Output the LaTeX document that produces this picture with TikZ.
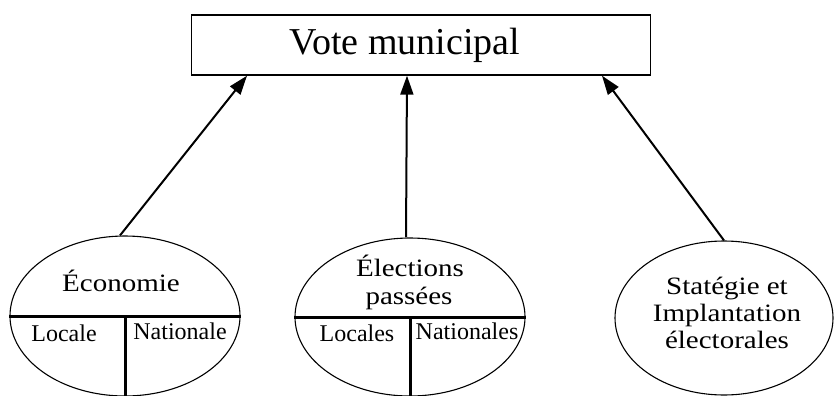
\documentclass[tikz,border=0pt]{standalone}
\usepackage{fontspec}
\setmainfont{Liberation Serif}
\newfontfamily\widefont[FakeStretch=1.16]{Liberation Serif}
\usetikzlibrary{shapes.geometric, arrows.meta, positioning}
\newcommand{\bigfont}{\widefont\fontsize{25}{26}\selectfont}
\newcommand{\smallfont}{\fontsize{24}{24}\selectfont}

\begin{document}
\begin{tikzpicture}[
    x=1pt, y=-1pt,
    %% -- Node styles ------------------------------------------------------
    %%
    %% votebox: the plain frame at the top
    votebox/.style={
        draw,
        line width=1.4pt,
        minimum width=459pt,
        minimum height=60pt,
        inner sep=0pt,
    },
    %% factor: one oval per group of causes
    factor/.style={
        draw,
        shape=ellipse,
        line width=1.1pt,
        inner sep=0pt,
    },
    %% split: the heavy chord and stem inside an oval
    split/.style={line width=3pt},
    %% -- Text styles ------------------------------------------------------
    title/.style={font=\fontsize{38}{38}\selectfont, anchor=base, inner sep=0pt},
    flabel/.style={font=\bigfont, anchor=base, inner sep=0pt, align=center},
    sublabel/.style={font=\smallfont, anchor=base, inner sep=0pt},
    %% -- Edge style -------------------------------------------------------
    cause/.style={
        -{Triangle[length=19pt, width=13pt]},
        line width=2pt,
    },
]

\useasboundingbox (0,0) rectangle (835,396);

%% -- Place nodes here -----------------------------------------------------

\node[votebox] (vote) at (421,45) {};
\node[title]   (vote_text) at (405,55) {Vote municipal};

\node[factor, minimum width=230pt, minimum height=160pt] (eco) at (125,316) {};
\node[factor, minimum width=230pt, minimum height=158pt] (elec) at (410,317) {};
\node[factor, minimum width=218pt, minimum height=154pt] (strat) at (724,318) {};

\node[flabel]   (eco_text)  at (121,291) {Économie};
\node[sublabel] (eco_loc)   at (64,341)  {Locale};
\node[sublabel] (eco_nat)   at (180,339) {Nationale};

\node[flabel]   (elec_text1) at (410,276) {Élections};
\node[flabel]   (elec_text2) at (409,304) {passées};
\node[sublabel] (elec_loc)   at (357,341) {Locales};
\node[sublabel] (elec_nat)   at (467,339) {Nationales};

\node[flabel]   (strat_text1) at (727,294) {Statégie et};
\node[flabel]   (strat_text2) at (727,321) {Implantation};
\node[flabel]   (strat_text3) at (727,348) {électorales};

%% -- Points where the arrows meet the frame -------------------------------

\coordinate (hit_eco)   at ([xshift=-174pt]vote.south);
\coordinate (hit_elec)  at ([xshift=-14pt]vote.south);
\coordinate (hit_strat) at ([xshift=181pt]vote.south);

%% -- Draw edges here ------------------------------------------------------

\draw[split] (eco.west) -- (eco.east);
\draw[split] (eco.center) -- (eco.south);
\draw[split] (elec.west) -- (elec.east);
\draw[split] (elec.center) -- (elec.south);

\draw[cause] ([xshift=-5pt]eco.north) -- (hit_eco);
\draw[cause] ([xshift=-4pt]elec.north) -- (hit_elec);
\draw[cause] (strat.north) -- (hit_strat);

\end{tikzpicture}
\end{document}
